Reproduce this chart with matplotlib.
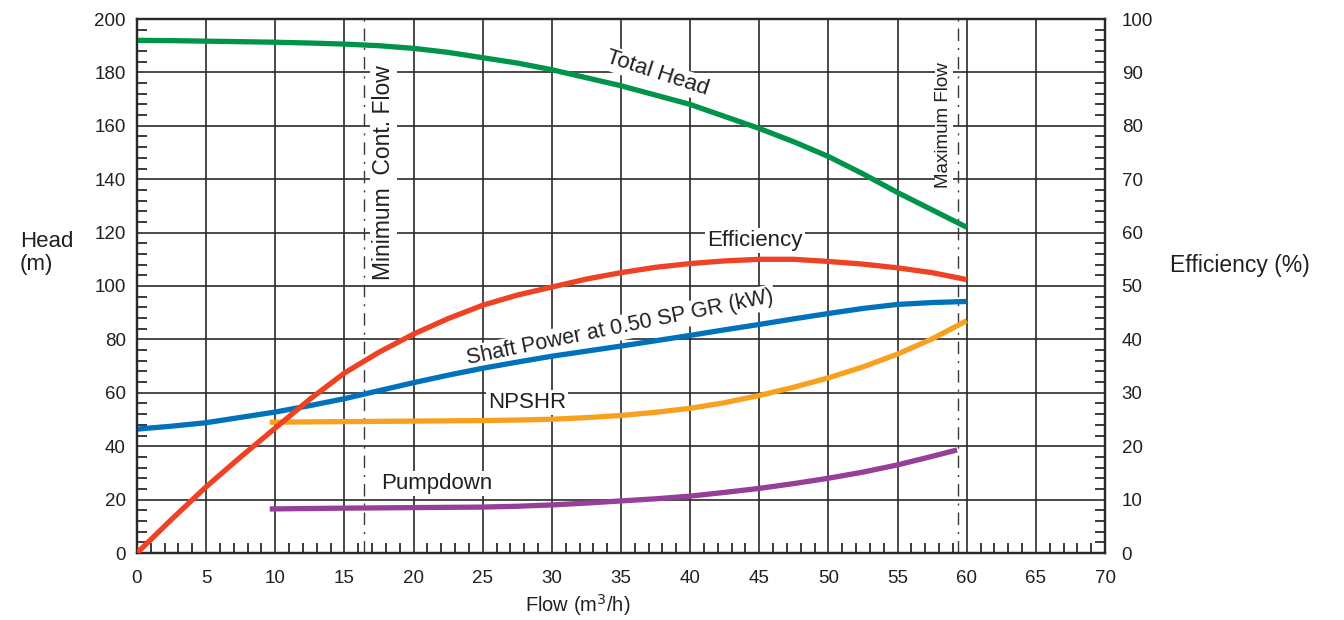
import matplotlib
matplotlib.use("Agg")
import matplotlib.pyplot as plt
from matplotlib.ticker import MultipleLocator

plt.rcParams['font.family'] = ['Liberation Sans', 'DejaVu Sans']

# Pump performance curves, flow in m3/h
flow = [0, 2.5, 5, 7.5, 10, 12.5, 15, 17.5, 20, 22.5, 25, 27.5, 30, 32.5, 35,
        37.5, 40, 42.5, 45, 47.5, 50, 52.5, 55, 57.5, 60]
total_head = [192, 191.9, 191.7, 191.5, 191.3, 191, 190.6, 190, 189, 187.5, 185.5,
              183.5, 181, 178, 175, 171.5, 168, 163.5, 159, 154, 148.5, 142, 135,
              128.5, 122]
efficiency = [0, 6.3, 12.4, 18, 23.4, 28.8, 33.7, 37.6, 41, 43.9, 46.4, 48.3, 49.8,
              51.3, 52.5, 53.5, 54.2, 54.7, 55, 55, 54.6, 54.1, 53.4, 52.5, 51.2]
shaft_power = [46.4, 47.5, 48.8, 50.8, 52.8, 55.2, 57.8, 60.8, 63.8, 66.6, 69.2,
               71.5, 73.7, 75.6, 77.5, 79.5, 81.5, 83.6, 85.6, 87.7, 89.7, 91.6,
               93.1, 93.8, 94.2]

flow_npshr = [9.6, 15, 20, 25, 27.5, 30, 32.5, 35, 37.5, 40, 42.5, 45, 47.5, 50,
              52.5, 55, 57.5, 60]
npshr = [49, 49.2, 49.4, 49.6, 49.8, 50.1, 50.7, 51.5, 52.7, 54.2, 56.3, 59, 62.1,
         65.6, 69.7, 74.5, 80.2, 87]

flow_pumpdown = [9.6, 15, 20, 25, 27.5, 30, 32.5, 35, 37.5, 40, 42.5, 45, 47.5, 50,
                 52.5, 55, 57.5, 59.3]
pumpdown = [16.5, 16.8, 17, 17.2, 17.5, 18, 18.7, 19.5, 20.3, 21.3, 22.7, 24.2, 26,
            28, 30.3, 33, 36.2, 38.6]

min_cont_flow = 16.4
max_flow = 59.4

x_ticks = list(range(0, 75, 5))
head_ticks = list(range(0, 220, 20))
eff_ticks = list(range(0, 110, 10))

grid_col = '#2a2a2a'
txt_col = '#231f20'

fig = plt.figure(figsize=(13.44, 6.2), dpi=100)
ax = fig.add_axes([137 / 1344, 67 / 620, 968 / 1344, 534 / 620])
ax2 = ax.twinx()

ax.set_xlim(0, 70)
ax.set_ylim(0, 200)
ax2.set_ylim(0, 100)

ax.set_xticks(x_ticks)
ax.set_yticks(head_ticks)
ax2.set_yticks(eff_ticks)
ax.xaxis.set_minor_locator(MultipleLocator(1))
ax.yaxis.set_minor_locator(MultipleLocator(4))
ax2.yaxis.set_minor_locator(MultipleLocator(2))

for a in (ax, ax2):
    a.tick_params(which='both', direction='in', colors=grid_col, labelcolor=txt_col,
                  labelsize=13.5, width=1.3)
    a.tick_params(which='major', length=0, pad=8)
    a.tick_params(which='minor', length=7)
    for s in a.spines.values():
        s.set_color(grid_col)
        s.set_linewidth(1.6)
ax.tick_params(axis='x', pad=12)
ax2.tick_params(axis='y', pad=12)

ax.grid(True, which='major', color=grid_col, linewidth=1.2)
ax.set_axisbelow(True)

# Flow limit markers
for xv in (min_cont_flow, max_flow):
    ax.axvline(xv, color='#3a3a3a', linewidth=1.0, dashes=(9, 5, 1.5, 5), zorder=2)

lw = 3.8
ax.plot(flow, total_head, color='#00934a', lw=lw, zorder=4, solid_capstyle='butt')
ax.plot(flow, shaft_power, color='#0072bc', lw=lw, zorder=4, solid_capstyle='butt')
ax.plot(flow_npshr, npshr, color='#f7a11f', lw=lw, zorder=4, solid_capstyle='butt')
ax.plot(flow_pumpdown, pumpdown, color='#953f98', lw=lw, zorder=4, solid_capstyle='butt')
ax2.plot(flow, efficiency, color='#ef4123', lw=lw, zorder=4, solid_capstyle='butt')

box = dict(facecolor='white', edgecolor='none', pad=1.5)
fs = 16
ax.text(37.6, 179.5, 'Total Head', rotation=-18, ha='center', va='center',
        fontsize=fs, color=txt_col, bbox=box, zorder=3, rotation_mode='anchor')
ax.text(44.7, 117, 'Efficiency', ha='center', va='center', fontsize=fs,
        color=txt_col, bbox=box, zorder=3)
ax.text(34.9, 84.3, 'Shaft Power at 0.50 SP GR (kW)', rotation=11.5, ha='center',
        va='center', fontsize=15.5, color=txt_col, bbox=box, zorder=3,
        rotation_mode='anchor')
ax.text(28.2, 56.5, 'NPSHR', ha='center', va='center', fontsize=fs,
        color=txt_col, bbox=box, zorder=3)
ax.text(21.7, 26.2, 'Pumpdown', ha='center', va='center', fontsize=fs,
        color=txt_col, bbox=box, zorder=3)
ax.text(17.8, 142.3, 'Minimum  Cont. Flow', rotation=90, ha='center', va='center',
        fontsize=16.5, color=txt_col, bbox=box, zorder=3)
ax.text(58.35, 160.3, 'Maximum Flow', rotation=90, ha='center', va='center',
        fontsize=13.5, color=txt_col, bbox=dict(facecolor='white', edgecolor='none', pad=0.5),
        zorder=3)

fig.text(578 / 1344, 1 - 605 / 620, 'Flow (m$^3$/h)', ha='center', va='center',
         fontsize=14.5, color=txt_col)
fig.text(20 / 1344, 1 - 253 / 620, 'Head\n(m)', ha='left', va='center', fontsize=16,
         color=txt_col, multialignment='left', linespacing=1.15)
fig.text(1240 / 1344, 1 - 266 / 620, 'Efficiency (%)', ha='center', va='center',
         fontsize=16.5, color=txt_col)

fig.savefig('out.png', dpi=100, facecolor='white')
